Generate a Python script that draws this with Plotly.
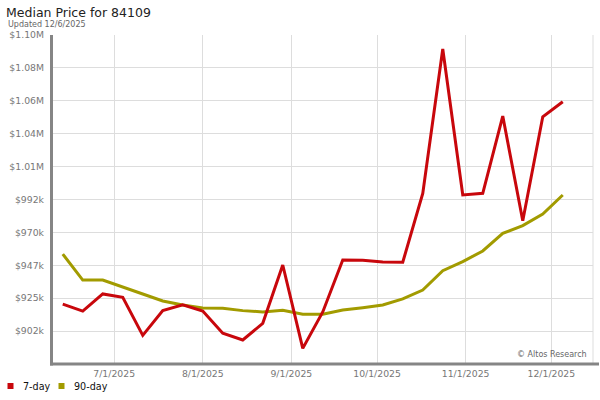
import plotly.graph_objects as go

# ---- data ----
dates = [
    "2025-06-13", "2025-06-20", "2025-06-27", "2025-07-04", "2025-07-11", "2025-07-18",
    "2025-07-25", "2025-08-01", "2025-08-08", "2025-08-15", "2025-08-22", "2025-08-29",
    "2025-09-05", "2025-09-12", "2025-09-19", "2025-09-26", "2025-10-03", "2025-10-10",
    "2025-10-17", "2025-10-24", "2025-10-31", "2025-11-07", "2025-11-14", "2025-11-21",
    "2025-11-28", "2025-12-05",
]
price_7day = [
    921000, 916200, 927900, 925600, 899600, 916500, 920400, 916200, 901000, 896400,
    907800, 947700, 890700, 915600, 951100, 950900, 949800, 949600, 996700, 1095400,
    995600, 996700, 1049600, 978000, 1049100, 1059400,
]
price_90day = [
    955200, 937400, 937400, 932900, 927900, 923100, 920400, 918300, 918100, 916500,
    915600, 916700, 914000, 914000, 916900, 918500, 920400, 924500, 930600, 943800,
    950000, 957300, 969400, 974600, 982600, 995600,
]
series_names = ["7-day", "90-day"]
y_tick_values = [902500, 925000, 947500, 970000, 992500, 1015000, 1037500, 1060000, 1082500, 1105000]
y_tick_labels = ["$902k", "$925k", "$947k", "$970k", "$992k", "$1.01M", "$1.04M", "$1.06M", "$1.08M", "$1.10M"]
y_range = [880000, 1105000]
x_range = ["2025-06-09 14:00", "2025-12-15 14:00"]
title_text = "Median Price for 84109"
subtitle_text = "Updated 12/6/2025"
credit_text = "© Altos Research"

# ---- style ----
RED = "#c8070c"
OLIVE = "#a29b00"
GRID = "#dddddd"
AXIS = "#858585"
FONT = "DejaVu Sans"
W, H = 600, 400
ML, MR, MT, MB = 53, 7, 35, 36
PW, PH = W - ML - MR, H - MT - MB


def px_x(x):
    return (x - ML) / PW


def px_y(y):
    return (H - MB - y) / PH


fig = go.Figure()
fig.add_trace(go.Scatter(x=dates, y=price_90day, mode="lines", name=series_names[1],
                         line=dict(color=OLIVE, width=3), showlegend=False))
fig.add_trace(go.Scatter(x=dates, y=price_7day, mode="lines", name=series_names[0],
                         line=dict(color=RED, width=3), showlegend=False))

shapes = [
    # right border grid line
    dict(type="line", xref="paper", yref="paper", x0=1, x1=1, y0=0, y1=1,
         line=dict(color=GRID, width=1), layer="below"),
    # left axis line
    dict(type="line", xref="paper", yref="paper", x0=px_x(51.5), x1=px_x(51.5),
         y0=px_y(35), y1=px_y(365.5), line=dict(color=AXIS, width=3)),
    # bottom axis line
    dict(type="line", xref="paper", yref="paper", x0=px_x(50), x1=px_x(599),
         y0=px_y(364), y1=px_y(364), line=dict(color=AXIS, width=3)),
]
annotations = [
    dict(text=subtitle_text, xref="paper", yref="paper", x=px_x(6), y=px_y(24.5),
         xanchor="left", yanchor="middle", showarrow=False,
         font=dict(family=FONT, size=8, color="#666666")),
    dict(text=credit_text, xref="paper", yref="paper", x=px_x(589), y=px_y(354),
         xanchor="right", yanchor="middle", showarrow=False,
         font=dict(family=FONT, size=8, color="#666666")),
]
legend_items = [(series_names[0], RED, 10.5, 21), (series_names[1], OLIVE, 61.5, 71.5)]
for name, col, sx, tx in legend_items:
    shapes.append(dict(type="rect", xref="paper", yref="paper", xsizemode="pixel", ysizemode="pixel",
                       xanchor=px_x(sx), yanchor=px_y(386), x0=-3, x1=3, y0=-3, y1=3,
                       fillcolor=col, line=dict(width=0)))
    annotations.append(dict(text=name, xref="paper", yref="paper", x=px_x(tx), y=px_y(386.5),
                            xanchor="left", yanchor="middle", showarrow=False,
                            font=dict(family=FONT, size=9.6, color="#111111")))

fig.update_layout(
    width=W, height=H,
    margin=dict(l=ML, r=MR, t=MT, b=MB, pad=0, autoexpand=False),
    paper_bgcolor="white", plot_bgcolor="white",
    title=dict(text=title_text, x=6 / W, xanchor="left", y=1 - 13 / H, yanchor="middle",
               font=dict(family=FONT, size=12.5, color="#222222"), automargin=False),
    showlegend=False,
    shapes=shapes,
    annotations=annotations,
    hovermode=False,
)
fig.update_xaxes(
    type="date", range=x_range, tickformat="%-m/%-d/%Y", dtick="M1", tick0="2025-07-01",
    showgrid=True, gridcolor=GRID, gridwidth=1, zeroline=False, showline=False,
    ticks="", ticklabelstandoff=3, automargin=False,
    tickfont=dict(family=FONT, size=9.3, color="#777777"),
)
fig.update_yaxes(
    range=y_range, tickvals=y_tick_values, ticktext=y_tick_labels,
    showgrid=True, gridcolor=GRID, gridwidth=1, zeroline=False, showline=False,
    ticks="", ticklabelstandoff=8, automargin=False,
    tickfont=dict(family=FONT, size=9.3, color="#777777"),
)

fig.write_html(
    "out.html",
    config={"displayModeBar": False},
    post_script="document.body.style.margin='0';document.body.style.overflow='hidden';",
)
